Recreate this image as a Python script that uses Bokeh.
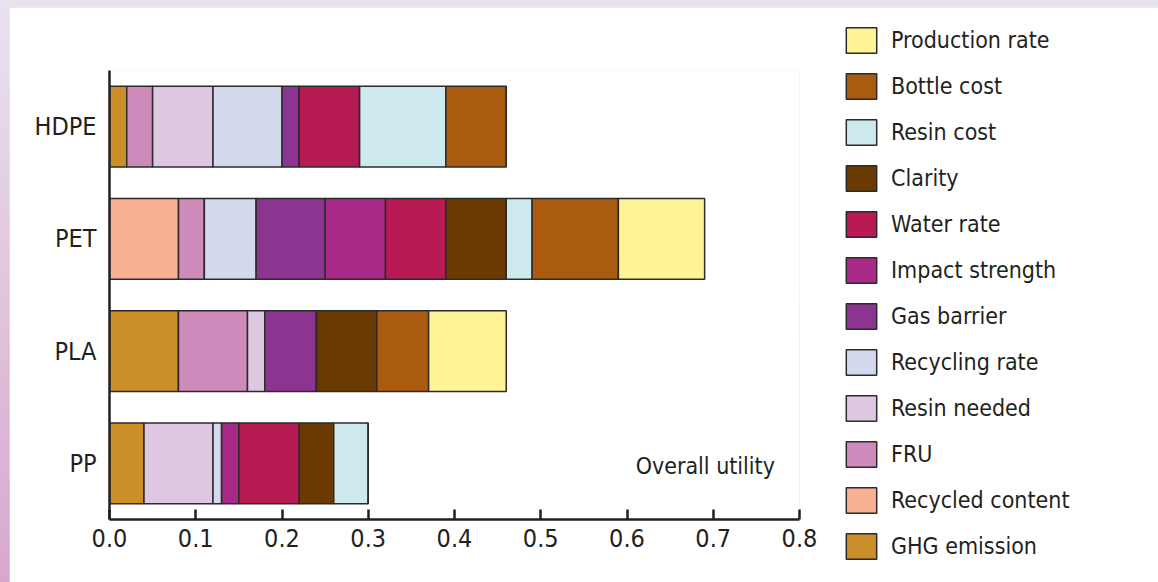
from bokeh.plotting import figure
from bokeh.models import (ColumnDataSource, FactorRange, Range1d, Legend, LegendItem,
                          Label, FixedTicker, PrintfTickFormatter)
from bokeh.embed import file_html
from bokeh.resources import INLINE

materials = ["PP", "PLA", "PET", "HDPE"]

series = ["GHG emission", "Recycled content", "FRU", "Resin needed", "Recycling rate",
          "Gas barrier", "Impact strength", "Water rate", "Clarity", "Resin cost",
          "Bottle cost", "Production rate"]

ghg_emission     = [0.04, 0.08, 0.00, 0.02]
recycled_content = [0.00, 0.00, 0.08, 0.00]
fru              = [0.00, 0.08, 0.03, 0.03]
resin_needed     = [0.08, 0.02, 0.00, 0.07]
recycling_rate   = [0.01, 0.00, 0.06, 0.08]
gas_barrier      = [0.00, 0.06, 0.08, 0.02]
impact_strength  = [0.02, 0.00, 0.07, 0.00]
water_rate       = [0.07, 0.00, 0.07, 0.07]
clarity          = [0.04, 0.07, 0.07, 0.00]
resin_cost       = [0.04, 0.00, 0.03, 0.10]
bottle_cost      = [0.00, 0.06, 0.10, 0.07]
production_rate  = [0.00, 0.09, 0.10, 0.00]

colors = ["#cb8e29", "#f9b092", "#ce8abb", "#dec8e1", "#d4d9ed", "#8c3590",
          "#a82a86", "#b81b54", "#6a3a02", "#cde9ee", "#ab5b0f", "#fef495"]

x_ticks = [0.0, 0.1, 0.2, 0.3, 0.4, 0.5, 0.6, 0.7, 0.8]

values = [ghg_emission, recycled_content, fru, resin_needed, recycling_rate, gas_barrier,
          impact_strength, water_rate, clarity, resin_cost, bottle_cost, production_rate]

data = {"material": materials}
for name, vals in zip(series, values):
    data[name] = vals
source = ColumnDataSource(data)

FONT = "'Liberation Sans Narrow', 'Arial Narrow', 'DejaVu Sans Condensed', sans-serif"
TXT = "#231f20"
EDGE = "#2b2b2b"

p = figure(frame_width=690, frame_height=449, output_backend="svg", toolbar_location=None,
           y_range=FactorRange(factors=materials), x_range=Range1d(0, 0.8),
           min_border_left=100, min_border_right=0, min_border_top=63,
           min_border_bottom=63, outline_line_color=None,
           background_fill_color="white", border_fill_color="white")

renderers = p.hbar_stack(series, y="material", height=0.72, color=colors, source=source,
                         line_color=EDGE, line_width=1.5)

p.xgrid.visible = False
p.ygrid.visible = False

xa = p.xaxis[0]
xa.ticker = FixedTicker(ticks=x_ticks)
xa.formatter = PrintfTickFormatter(format="%.1f")
xa.minor_tick_line_color = None
xa.major_tick_in = 10
xa.major_tick_out = 0
xa.major_tick_line_width = 2.5
xa.major_tick_line_color = TXT
xa.axis_line_width = 2.5
xa.axis_line_color = TXT
xa.major_label_text_font = FONT
xa.major_label_text_font_size = "25px"
xa.major_label_text_color = TXT
xa.major_label_standoff = 9

ya = p.yaxis[0]
ya.major_tick_line_color = None
ya.minor_tick_line_color = None
ya.axis_line_width = 2.5
ya.axis_line_color = TXT
ya.major_label_text_font = FONT
ya.major_label_text_font_size = "25px"
ya.major_label_text_color = TXT
ya.major_label_standoff = 7

p.add_layout(Label(x=0.61, y=0.473, text="Overall utility", text_font=FONT,
                   text_font_size="23px", text_color=TXT, text_baseline="middle"))

items = [LegendItem(label=name, renderers=[r]) for name, r in zip(series, renderers)]
items.reverse()
legend = Legend(items=items, location=(43, -43), glyph_width=38, glyph_height=32,
                label_height=32, spacing=14, padding=0, margin=0,
                border_line_color=None, background_fill_alpha=0, label_standoff=11,
                label_text_font=FONT, label_text_font_size="23px",
                label_text_color=TXT)
p.add_layout(legend, "right")

html = file_html(p, INLINE)
style = ("<style>html{background:linear-gradient(to bottom,#e9e2f0,#d8a8cc) !important;}"
         "body{background:transparent !important;padding:7px 0 0 9px !important;"
         "margin:0 !important;}</style></head>")
html = html.replace("</head>", style, 1)
open("out.html", "w").write(html)
